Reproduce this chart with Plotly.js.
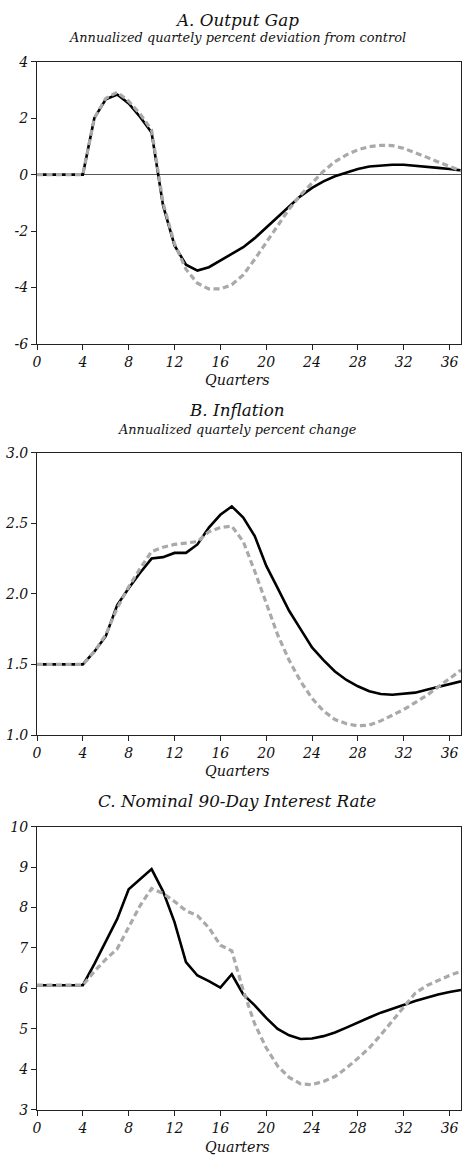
<!DOCTYPE html>
<html>
<head>
<meta charset="utf-8">
<script src="https://cdn.plot.ly/plotly-3.0.1.min.js"></script>
<style>
  html, body { margin: 0; padding: 0; background: #fff; }
  #chart { width: 462px; height: 1157px; }
</style>
</head>
<body>
<div id="chart"></div>
<script>
// Quarters after the shock
const quarters = Array.from({length: 38}, (_, i) => i);

// A. Output gap (percent deviation from control)
const gapSolid = [0, 0, 0, 0, 0, 2.0, 2.67, 2.84, 2.52, 2.04, 1.49, -1.09, -2.51, -3.19, -3.40, -3.28,
  -3.05, -2.82, -2.57, -2.25, -1.88, -1.50, -1.12, -0.76, -0.47, -0.24, -0.06, 0.08, 0.20, 0.29,
  0.33, 0.35, 0.35, 0.32, 0.28, 0.24, 0.20, 0.15];
const gapDashed = [0, 0, 0, 0, 0, 2.0, 2.70, 2.92, 2.60, 2.15, 1.58, -1.00, -2.45, -3.35, -3.85, -4.05,
  -4.05, -3.90, -3.55, -3.00, -2.40, -1.80, -1.22, -0.72, -0.28, 0.12, 0.46, 0.70, 0.88, 0.99,
  1.04, 1.03, 0.93, 0.78, 0.62, 0.45, 0.28, 0.13];

// B. Inflation (annualized quarterly percent change)
const inflSolid = [1.5, 1.5, 1.5, 1.5, 1.5, 1.59, 1.70, 1.92, 2.04, 2.15, 2.25, 2.26, 2.29, 2.29, 2.35, 2.47,
  2.56, 2.62, 2.54, 2.41, 2.20, 2.04, 1.88, 1.75, 1.62, 1.53, 1.45, 1.39, 1.345, 1.31,
  1.29, 1.285, 1.29, 1.30, 1.32, 1.34, 1.36, 1.38];
const inflDashed = [1.5, 1.5, 1.5, 1.5, 1.5, 1.59, 1.71, 1.90, 2.05, 2.18, 2.30, 2.33, 2.35, 2.36, 2.37, 2.44,
  2.47, 2.48, 2.37, 2.16, 1.93, 1.71, 1.53, 1.38, 1.26, 1.17, 1.11, 1.08, 1.065, 1.07,
  1.10, 1.14, 1.18, 1.23, 1.28, 1.34, 1.40, 1.46];

// C. Nominal 90-day interest rate
const rateSolid = [6.08, 6.08, 6.08, 6.08, 6.08, 6.60, 7.15, 7.72, 8.45, 8.70, 8.95, 8.40, 7.64, 6.65, 6.32, 6.18,
  6.02, 6.35, 5.85, 5.58, 5.27, 5.00, 4.84, 4.75, 4.76, 4.82, 4.91, 5.03, 5.16, 5.28,
  5.40, 5.50, 5.60, 5.69, 5.77, 5.85, 5.91, 5.96];
const rateDashed = [6.08, 6.08, 6.08, 6.08, 6.08, 6.42, 6.72, 6.98, 7.50, 8.05, 8.47, 8.35, 8.15, 7.92, 7.80, 7.50,
  7.07, 6.93, 5.95, 5.12, 4.53, 4.08, 3.80, 3.64, 3.62, 3.70, 3.82, 4.03, 4.27, 4.53,
  4.85, 5.20, 5.55, 5.88, 6.07, 6.20, 6.32, 6.42];

// Tick values for each axis
const xTicks = [0, 4, 8, 12, 16, 20, 24, 28, 32, 36];
const gapTicks = [-6, -4, -2, 0, 2, 4];
const inflTicks = [1.0, 1.5, 2.0, 2.5, 3.0];
const rateTicks = [3, 4, 5, 6, 7, 8, 9, 10];

// Panel titles and axis labels
const panelTitles = ['A. Output Gap', 'B. Inflation', 'C. Nominal 90-Day Interest Rate'];
const panelSubtitles = ['Annualized quartely percent deviation from control', 'Annualized quartely percent change'];
const xLabel = 'Quarters';

const FONT = 'DejaVu Serif';
const H = 1157;
const py = p => 1 - p / H;   // pixel row -> paper fraction (no top/bottom margin)

const solidLine = {color: '#000000', width: 2.6};
const dashedLine = {color: '#a9a9a9', width: 3.2, dash: '6px,3.5px'};

const panels = [
  {solid: gapSolid, dashed: gapDashed},
  {solid: inflSolid, dashed: inflDashed},
  {solid: rateSolid, dashed: rateDashed}
];

const traces = [];
panels.forEach((p, i) => {
  const xa = i === 0 ? 'x' : 'x' + (i + 1);
  const ya = i === 0 ? 'y' : 'y' + (i + 1);
  traces.push({x: quarters, y: p.solid, xaxis: xa, yaxis: ya, type: 'scatter', mode: 'lines',
    line: solidLine, hoverinfo: 'skip'});
  traces.push({x: quarters, y: p.dashed, xaxis: xa, yaxis: ya, type: 'scatter', mode: 'lines',
    line: dashedLine, hoverinfo: 'skip'});
});

const tickFont = {family: FONT, size: 14, color: '#111', style: 'italic'};

function xAxis(anchor) {
  return {
    anchor: anchor, domain: [0, 1], range: [0, 37],
    tickmode: 'array', tickvals: xTicks, ticktext: xTicks.map(String),
    showline: true, mirror: true, linecolor: '#222', linewidth: 1,
    ticks: 'outside', ticklen: 5, tickcolor: '#222', tickwidth: 1,
    showgrid: false, zeroline: false, tickfont: tickFont, fixedrange: true
  };
}
function yAxis(anchor, domain, range, vals, digits, zero) {
  return {
    anchor: anchor, domain: domain, range: range,
    tickmode: 'array', tickvals: vals, ticktext: vals.map(v => v.toFixed(digits)),
    showline: true, mirror: true, linecolor: '#222', linewidth: 1,
    ticks: 'outside', ticklen: 5, tickcolor: '#222', tickwidth: 1,
    showgrid: false, zeroline: zero, zerolinecolor: '#555', zerolinewidth: 1,
    tickfont: tickFont, fixedrange: true
  };
}

const titleX = (237 - 37) / 424;
const ann = (text, yPix, size) => ({
  text: text, xref: 'paper', yref: 'paper', x: titleX, y: py(yPix),
  xanchor: 'center', yanchor: 'middle', showarrow: false,
  font: {family: FONT, size: size, color: '#111', style: 'italic'}
});

const annotations = [
  ann(panelTitles[0], 20, 16.8), ann(panelSubtitles[0], 38, 12.9), ann(xLabel, 380, 14.3),
  ann(panelTitles[1], 410, 16.8), ann(panelSubtitles[1], 429, 12.9), ann(xLabel, 770.7, 14.3),
  ann(panelTitles[2], 800.7, 16.8), ann(xLabel, 1146.7, 14.3)
];

const layout = {
  width: 462, height: H,
  margin: {l: 37, r: 1, t: 0, b: 0},
  paper_bgcolor: '#fff', plot_bgcolor: '#fff',
  showlegend: false,
  font: {family: FONT, color: '#111', style: 'italic'},
  xaxis: xAxis('y'),
  xaxis2: xAxis('y2'),
  xaxis3: xAxis('y3'),
  yaxis: yAxis('x', [py(344), py(61.7)], [-6, 4], gapTicks, 0, true),
  yaxis2: yAxis('x2', [py(735), py(452.7)], [1, 3], inflTicks, 1, false),
  yaxis3: yAxis('x3', [py(1109.7), py(826.7)], [3, 10], rateTicks, 0, false),
  annotations: annotations
};

Plotly.newPlot('chart', traces, layout, {staticPlot: true, displayModeBar: false});
</script>
</body>
</html>
